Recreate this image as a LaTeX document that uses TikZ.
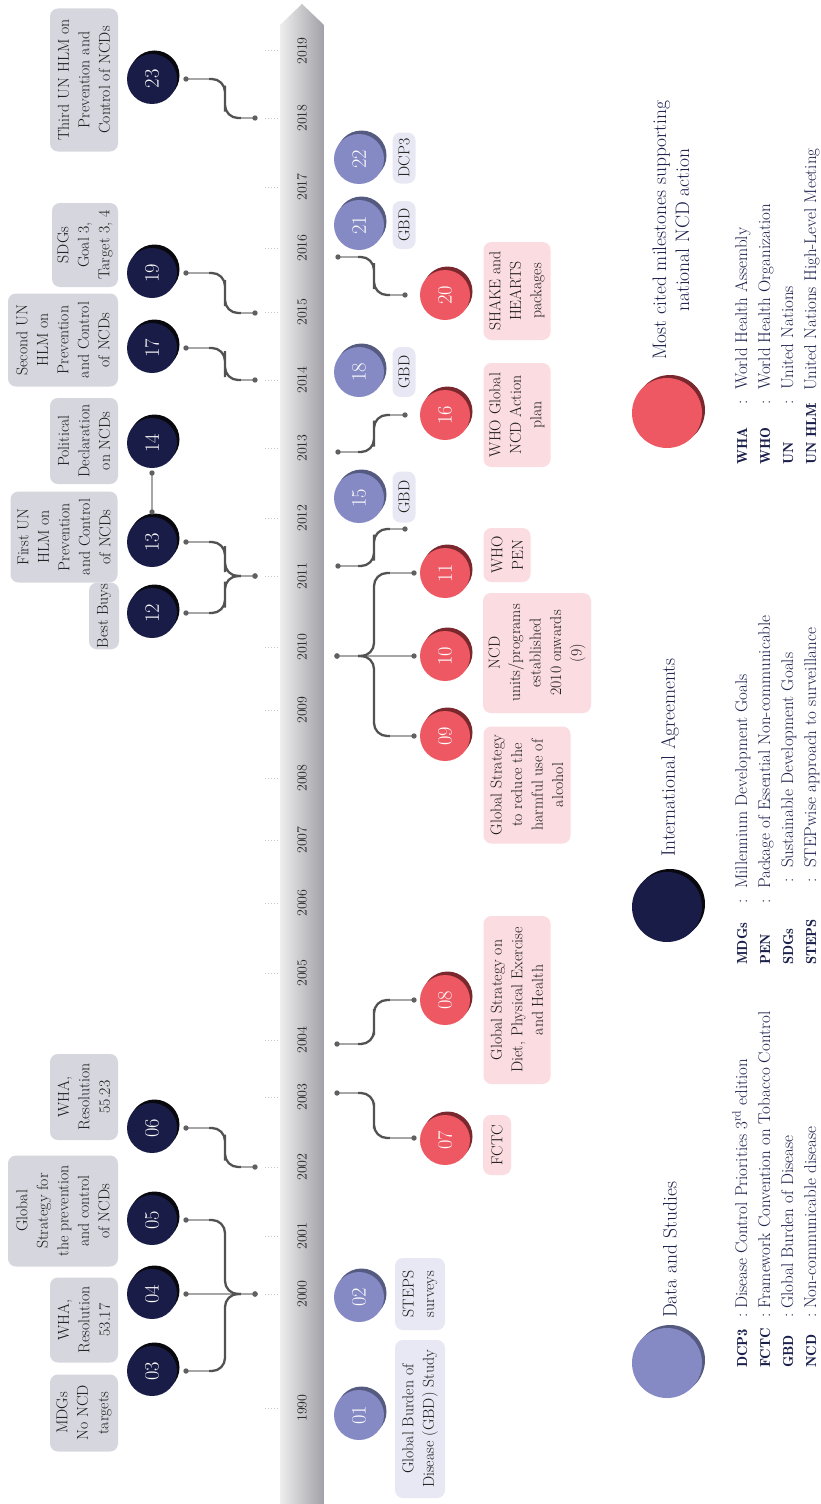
\documentclass[tikz,border=0pt]{standalone}
\usetikzlibrary{calc}
\definecolor{navy}{RGB}{25,28,70}
\definecolor{navysh}{RGB}{8,8,14}
\definecolor{lav}{RGB}{133,137,196}
\definecolor{lavsh}{RGB}{85,90,128}
\definecolor{coral}{RGB}{238,88,98}
\definecolor{coralsh}{RGB}{122,40,46}
\definecolor{grayfill}{RGB}{214,215,222}
\definecolor{lavfill}{RGB}{232,232,244}
\definecolor{pinkfill}{RGB}{251,220,224}
\definecolor{legtext}{RGB}{27,31,75}
\definecolor{barlight}{RGB}{238,238,238}
\definecolor{bardark}{RGB}{160,160,166}
\newcommand\boxfont{\fontsize{15.8}{20.5}\selectfont}
\newcommand\numfont{\fontsize{20.5}{20.5}\selectfont}
\newcommand\yearfont{\fontsize{14}{14}\selectfont}
\newcommand\legfont{\fontsize{19.5}{23}\selectfont}
\newcommand\abbfont{\fontsize{17}{20}\selectfont}
\newcommand\abbbold{\fontsize{14.5}{18}\fontseries{b}\selectfont}
\tikzset{
  mbox/.style={rotate=90, rounded corners=8pt, align=center, inner sep=1pt, font=\boxfont, text=black!90},
  gbox/.style={mbox, fill=grayfill},
  lbox/.style={mbox, fill=lavfill},
  pbox/.style={mbox, fill=pinkfill},
  stubline/.style={draw=gray!70, line width=1.3pt},
  sline/.style={draw=black!68, line width=2.3pt, rounded corners=13pt},
  dotc/.style={fill=gray!75!black},
  numc/.style={circle, minimum size=50pt, inner sep=0pt, rotate=90, text=white, font=\numfont},
  ytick/.style={draw=gray!45, line width=1pt, dotted},
  yearlab/.style={rotate=90, font=\yearfont, text=black!85},
  legc/.style={circle, minimum size=70pt, inner sep=0pt},
  legt/.style={rotate=90, anchor=west, inner sep=0pt, font=\legfont, text=legtext, align=center},
  abb/.style={rotate=90, inner sep=0pt, font=\abbfont, text=legtext},
  abbb/.style={rotate=90, inner sep=0pt, font=\abbbold, text=legtext},
}
\newcommand\ms[6]{%
  \fill[#5] (#2+2.5,#3-3.5) circle (25pt);
  \node[numc, fill=#4] (#1) at (#2,#3) {#6};
}
\newcommand\conn[4]{%
  \draw[stubline] (#1) -- (#2);
  \draw[sline] (#2) -| ($(#2)!.5!(#3)$) |- (#3);
  \draw[stubline] (#3) -- (#4);
  \fill[dotc] (#1) circle (2.7pt);
  \fill[dotc] (#4) circle (2.7pt);
}
\newcommand\abbrow[6]{% x, abbr start y, abbr, colon y, desc start y, desc
  \node[abbb, anchor=base west] at (#1,#2) {#3};
  \node[abb, anchor=base] at (#1,#4) {:};
  \node[abb, anchor=base west] at (#1,#5) {#6};
}
\begin{document}
\begin{tikzpicture}[x=1pt,y=-1pt]
\useasboundingbox (0,0) rectangle (820,1504);
\fill[white] (0,0) rectangle (820,1504);

% timeline bar
\shade[left color=barlight, right color=bardark] (280,1504) -- (280,25) -- (302,4) -- (324,25) -- (324,1504) -- cycle;

% years and ticks
\foreach \yr/\yy in {1990/1408,2000/1294,2001/1236,2002/1167,2003/1097,2004/1040,2005/973,2006/903,2007/840,2008/778,2009/710,2010/647,2011/576,2012/518,2013/448,2014/380,2015/312,2016/248,2017/187,2018/118,2019/51}{
  \node[yearlab] (yr\yr) at (302,\yy) {\yr};
  \draw[ytick] (265,\yy) -- (279,\yy);
}

% ---------- left: international agreements ----------
\ms{c03}{152}{1371}{navy}{navysh}{03}
\ms{c04}{152}{1294}{navy}{navysh}{04}
\ms{c05}{152}{1220}{navy}{navysh}{05}
\ms{c06}{152}{1128}{navy}{navysh}{06}
\ms{c12}{152}{613}{navy}{navysh}{12}
\ms{c13}{152}{542}{navy}{navysh}{13}
\ms{c14}{152}{443}{navy}{navysh}{14}
\ms{c17}{152}{348}{navy}{navysh}{17}
\ms{c19}{152}{273}{navy}{navysh}{19}
\ms{c23}{152}{79}{navy}{navysh}{23}

\node[gbox, minimum width=77pt, minimum height=68pt] (b03) at (84,1413) {MDGs\\No NCD\\targets};
\node[gbox, minimum width=85pt, minimum height=68pt] (b04) at (84,1320) {WHA,\\Resolution\\53.17};
\node[gbox, minimum width=111pt, minimum height=110pt] (b05) at (63,1211) {Global\\Strategy for\\the prevention\\and control\\of NCDs};
\node[gbox, minimum width=86pt, minimum height=68pt] (b06) at (84,1097) {WHA,\\Resolution\\55.23};
\node[gbox, minimum width=63pt, minimum height=30pt] (b12) at (104,616) {Best Buys};
\node[gbox, minimum width=91pt, minimum height=107pt] (b13) at (64,537) {First UN\\HLM on\\Prevention\\and Control\\of NCDs};
\node[gbox, minimum width=86pt, minimum height=68pt] (b14) at (84,441) {Political\\Declaration\\on NCDs};
\node[gbox, minimum width=93pt, minimum height=110pt] (b17) at (63,340) {Second UN\\HLM on\\Prevention\\and Control\\of NCDs};
\node[gbox, minimum width=84pt, minimum height=66pt] (b19) at (85,245) {SDGs\\Goal 3,\\Target 3, 4};
\node[gbox, minimum width=143pt, minimum height=68pt] (b23) at (84,80) {Third UN HLM on\\Prevention and\\Control of NCDs};

% left connectors
\coordinate (t2000) at (255,1294);
\coordinate (t2002) at (255,1167);
\coordinate (t2011) at (255,576);
\coordinate (t2014) at (255,380);
\coordinate (t2015) at (255,313);
\coordinate (t2018) at (255,118);
\coordinate (d03) at (186,1371); \coordinate (a03) at (209,1371); \coordinate (b03) at (241,1294);
\coordinate (d04) at (186,1294);
\coordinate (d05) at (186,1220); \coordinate (a05) at (209,1220); \coordinate (b05) at (241,1294);
\coordinate (d06) at (186,1128); \coordinate (a06) at (209,1128); \coordinate (b06) at (241,1167);
\coordinate (d12) at (186,613); \coordinate (a12) at (209,613); \coordinate (b12) at (241,576);
\coordinate (d13) at (186,542); \coordinate (a13) at (209,542); \coordinate (b13) at (241,576);
\coordinate (d17) at (186,348); \coordinate (a17) at (209,348); \coordinate (b17) at (241,380);
\coordinate (d19) at (186,273); \coordinate (a19) at (209,273); \coordinate (b19) at (241,313);
\coordinate (d23) at (186,79); \coordinate (a23) at (209,79); \coordinate (b23) at (241,118);
\draw[stubline] (d04) -- (t2000); \fill[dotc] (d04) circle (2.7pt);
\conn{d03}{a03}{b03}{t2000}
\conn{d05}{a05}{b05}{t2000}
\conn{d06}{a06}{b06}{t2002}
\conn{d12}{a12}{b12}{t2011}
\conn{d13}{a13}{b13}{t2011}
\conn{d17}{a17}{b17}{t2014}
\conn{d19}{a19}{b19}{t2015}
\conn{d23}{a23}{b23}{t2018}
\coordinate (e13) at (152,512);
\coordinate (e14) at (152,473);
\draw[stubline] (e13) -- (e14);
\fill[dotc] (e13) circle (2.7pt);
\fill[dotc] (e14) circle (2.7pt);

% ---------- right: data and studies / most cited ----------
\ms{c01}{359}{1415}{lav}{lavsh}{01}
\ms{c02}{359}{1297}{lav}{lavsh}{02}
\ms{c15}{359}{498}{lav}{lavsh}{15}
\ms{c18}{359}{372}{lav}{lavsh}{18}
\ms{c21}{359}{225}{lav}{lavsh}{21}
\ms{c22}{359}{159}{lav}{lavsh}{22}
\ms{c07}{445}{1140}{coral}{coralsh}{07}
\ms{c08}{445}{1000}{coral}{coralsh}{08}
\ms{c09}{445}{736}{coral}{coralsh}{09}
\ms{c10}{445}{656}{coral}{coralsh}{10}
\ms{c11}{445}{573}{coral}{coralsh}{11}
\ms{c16}{445}{415}{coral}{coralsh}{16}
\ms{c20}{445}{295}{coral}{coralsh}{20}

\node[lbox, minimum width=158pt, minimum height=50pt] (b01) at (420,1419) {Global Burden of\\Disease (GBD) Study};
\node[lbox, minimum width=72pt, minimum height=50pt] (b02) at (420,1294) {STEPS\\surveys};
\node[pbox, minimum width=60pt, minimum height=28pt] (b07) at (497,1145) {FCTC};
\node[pbox, minimum width=168pt, minimum height=67pt] (b08) at (517,1000) {Global Strategy on\\Diet, Physical Exercise\\and Health};
\node[pbox, minimum width=117pt, minimum height=87pt] (b09) at (527,785) {Global Strategy\\to reduce the\\harmful use of\\alcohol};
\node[pbox, minimum width=120pt, minimum height=108pt] (b10) at (537,653) {NCD\\units/programs\\established\\2010 onwards\\(9)};
\node[pbox, minimum width=54pt, minimum height=47pt] (b11) at (507,555) {WHO\\PEN};
\node[lbox, minimum width=51pt, minimum height=23pt] (b15) at (404,497) {GBD};
\node[pbox, minimum width=104pt, minimum height=67pt] (b16) at (517,415) {WHO Global\\NCD Action\\plan};
\node[lbox, minimum width=50pt, minimum height=23pt] (b18) at (404,372) {GBD};
\node[pbox, minimum width=98pt, minimum height=67pt] (b20) at (517,291) {SHAKE and\\HEARTS\\packages};
\node[lbox, minimum width=48pt, minimum height=23pt] (b21) at (404,225) {GBD};
\node[lbox, minimum width=51pt, minimum height=23pt] (b22) at (404,158) {DCP3};

% right connectors
\coordinate (r2003) at (337,1093); \coordinate (a07) at (358,1093); \coordinate (b07) at (390,1138); \coordinate (d07) at (414,1138);
\coordinate (r2004) at (337,1044); \coordinate (a08) at (358,1044); \coordinate (b08) at (390,1000); \coordinate (d08) at (414,1000);
\coordinate (r2010) at (337,656); \coordinate (a10) at (358,656);
\coordinate (b09) at (390,736); \coordinate (d09) at (414,736);
\coordinate (d10) at (414,656);
\coordinate (b11) at (390,573); \coordinate (d11) at (414,573);
\coordinate (r2011) at (338,566); \coordinate (a15) at (358,566); \coordinate (b15) at (390,529); \coordinate (d15) at (405,529);
\coordinate (r2013) at (338,452); \coordinate (a16) at (358,452); \coordinate (b16) at (390,415); \coordinate (d16) at (405,415);
\coordinate (r2016) at (338,257); \coordinate (a20) at (358,257); \coordinate (b20) at (390,295); \coordinate (d20) at (405,295);
\conn{r2003}{a07}{b07}{d07}
\conn{r2004}{a08}{b08}{d08}
\draw[stubline] (r2010) -- (d10); \fill[dotc] (d10) circle (2.7pt);
\conn{r2010}{a10}{b09}{d09}
\conn{r2010}{a10}{b11}{d11}
\conn{r2011}{a15}{b15}{d15}
\conn{r2013}{a16}{b16}{d16}
\conn{r2016}{a20}{b20}{d20}

% ---------- legend ----------
\fill[lavsh] (670,1360) circle (35pt);
\node[legc, fill=lav] (legA) at (667,1363) {};
\node[legt] (legAt) at (670,1318) {Data and Studies};
\fill[navysh] (670,904) circle (35pt);
\node[legc, fill=navy] (legB) at (667,907) {};
\node[legt] (legBt) at (670,857) {International Agreements};
\fill[coralsh] (670,410) circle (35pt);
\node[legc, fill=coral] (legC) at (667,413) {};
\node[legt] (legCt) at (671,360) {Most cited milestones supporting\\national NCD action};

\abbrow{747}{1368}{DCP3}{1315}{1309}{Disease Control Priorities 3\textsuperscript{rd} edition}
\abbrow{770}{1368}{FCTC}{1315}{1309}{Framework Convention on Tobacco Control}
\abbrow{793}{1368}{GBD}{1315}{1309}{Global Burden of Disease}
\abbrow{816}{1368}{NCD}{1315}{1309}{Non-communicable disease}

\abbrow{747}{965}{MDGs}{901}{889}{Millennium Development Goals}
\abbrow{770}{965}{PEN}{901}{889}{Package of Essential Non-communicable}
\abbrow{793}{965}{SDGs}{880}{868}{Sustainable Development Goals}
\abbrow{816}{965}{STEPS}{880}{868}{STEPwise approach to surveillance}

\abbrow{747}{465}{WHA}{402}{390}{World Health Assembly}
\abbrow{770}{465}{WHO}{402}{390}{World Health Organization}
\abbrow{793}{465}{UN}{402}{390}{United Nations}
\abbrow{816}{465}{UN HLM}{404}{391}{United Nations High-Level Meeting}
\end{tikzpicture}
\end{document}
